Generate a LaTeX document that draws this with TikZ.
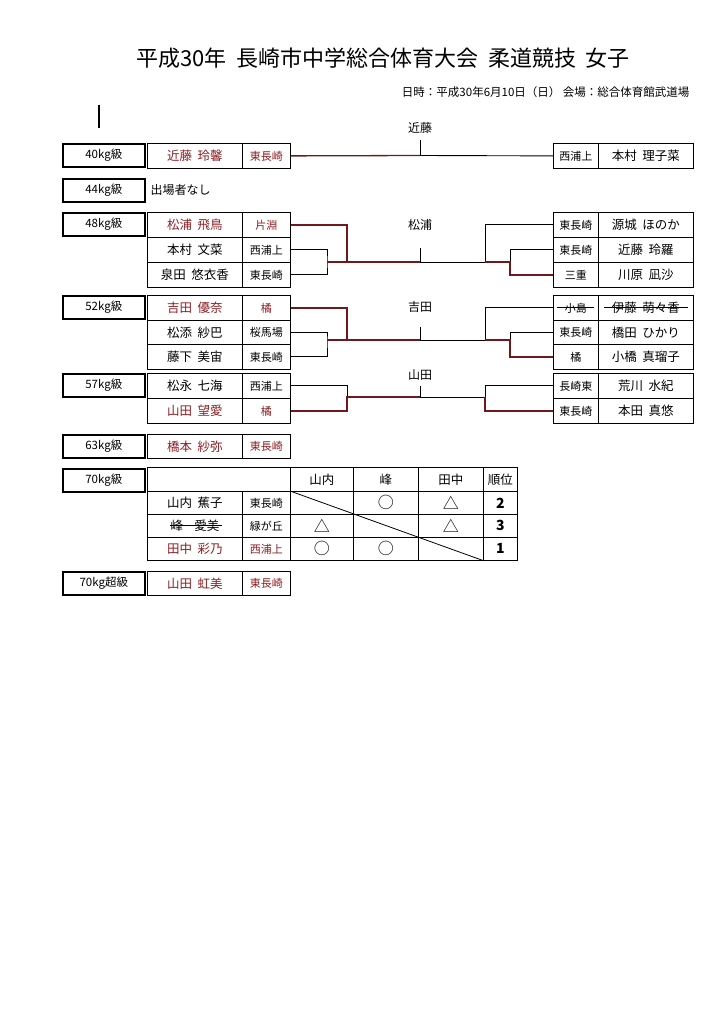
\documentclass[tikz,border=0pt]{standalone}
\usepackage{fontspec}
\setmainfont{Noto Sans CJK JP}
\begin{document}
\begin{tikzpicture}[x=1pt,y=-1pt,
  cell/.style={draw,line width=0.8pt,inner sep=0pt,font=\fontsize{12.5}{13}\selectfont},
  cls/.style={draw,line width=1.6pt,inner sep=0pt,minimum width=82pt,minimum height=23pt,anchor=north west,font=\fontsize{11.5}{12}\selectfont},
  br/.style={line width=0.9pt},
  win/.style={line width=1.3pt,color=wred!80!black},
  lbl/.style={font=\fontsize{12}{12}\selectfont}]
\definecolor{wred}{RGB}{140,30,35}
\useasboundingbox[fill=white] (0,0) rectangle (710,1024);
\newcommand\lent[6]{%
 \node[cell,text=#6,minimum width=95pt,minimum height=#3pt,anchor=north west] (#1n) at (147,#2) {#4};
 \node[cell,text=#6,minimum width=48pt,minimum height=#3pt,anchor=north west,font=\fontsize{11}{12}\selectfont] (#1s) at (242,#2) {#5};}
\newcommand\rent[6]{%
 \node[cell,text=#6,minimum width=45pt,minimum height=#3pt,anchor=north west,font=\fontsize{11}{12}\selectfont] (#1s) at (553,#2) {#5};
 \node[cell,text=#6,minimum width=95pt,minimum height=#3pt,anchor=north west] (#1n) at (598,#2) {#4};}
% title
\node[font=\fontsize{22}{24}\selectfont] (title) at (383,58) {平成30年\ \ 長崎市中学総合体育大会\ \ 柔道競技\ \ 女子};
\node[anchor=east,font=\fontsize{11.5}{12}\selectfont] (sub) at (693,92) {日時：平成30年6月10日（日）\ 会場：総合体育館武道場};
\coordinate (m1) at (99,105); \coordinate (m2) at (99,128);
\draw[line width=1.5pt] (m1) -- (m2);
% class labels
\node[cls] (c40) at (62,143) {40kg級};
\node[cls] (c44) at (62,178) {44kg級};
\node[cls] (c48) at (62,212) {48kg級};
\node[cls] (c52) at (62,295) {52kg級};
\node[cls] (c57) at (62,373) {57kg級};
\node[cls] (c63) at (62,434) {63kg級};
\node[cls] (c70) at (62,468) {70kg級};
\node[cls] (c70p) at (62,571) {70kg超級};
% 40kg
\lent{a}{143}{25}{近藤\ \ 玲馨}{東長崎}{wred}
\rent{b}{143}{25}{本村\ \ 理子菜}{西浦上}{black}
\coordinate (k40) at (420,155.5); \coordinate (k40t) at (420,140);
\draw[win] (as.east) -- (k40);
\draw[br] (k40) -- (bs.west);
\draw[br] (k40) -- (k40t);
\node[lbl] (w40) at (420,128) {近藤};
% 44kg
\node[lbl,anchor=west] (n44) at (147,190) {出場者なし};
% 48kg
\lent{d1}{212}{25}{松浦\ \ 飛鳥}{片淵}{wred}
\lent{d2}{237}{25}{本村\ \ 文菜}{西浦上}{black}
\lent{d3}{262}{25}{泉田\ \ 悠衣香}{東長崎}{black}
\rent{e1}{212}{25}{源城\ \ ほのか}{東長崎}{black}
\rent{e2}{237}{25}{近藤\ \ 玲羅}{東長崎}{black}
\rent{e3}{262}{25}{川原\ \ 凪沙}{三重}{black}
\coordinate (L48) at (347,262); \coordinate (l48) at (327,262);
\coordinate (R48) at (485,262); \coordinate (r48) at (510,262);
\coordinate (k48) at (420,262); \coordinate (k48t) at (420,248);
\draw[br] (d2s.east) -| (l48) |- (d3s.east);
\draw[win] (l48) -- (L48);
\draw[win] (d1s.east) -| (L48) -- (k48);
\draw[br] (k48) -- (R48) |- (e1s.west);
\draw[br] (e2s.west) -| (r48);
\draw[win] (R48) -- (r48) |- (e3s.west);
\draw[br] (k48) -- (k48t);
\node[lbl] (w48) at (420,225) {松浦};
% 52kg
\lent{f1}{295}{25}{吉田\ \ 優奈}{橘}{wred}
\lent{f2}{320}{24}{松添\ \ 紗巴}{桜馬場}{black}
\lent{f3}{344}{25}{藤下\ \ 美宙}{東長崎}{black}
\rent{g1}{295}{25}{伊藤\ \ 萌々香}{小島}{black}
\rent{g2}{320}{24}{橋田\ \ ひかり}{東長崎}{black}
\rent{g3}{344}{25}{小橋\ \ 真瑠子}{橘}{black}
\coordinate (s1) at (604,307.5); \coordinate (s2) at (688,307.5);
\draw[line width=0.8pt] (s1) -- (s2);
\coordinate (s5) at (557,307.5); \coordinate (s6) at (594,307.5);
\draw[line width=0.8pt] (s5) -- (s6);
\coordinate (L52) at (347,340); \coordinate (l52) at (327,340);
\coordinate (R52) at (485,340); \coordinate (r52) at (510,340);
\coordinate (k52) at (420,340); \coordinate (k52t) at (420,327);
\draw[br] (f2s.east) -| (l52) |- (f3s.east);
\draw[win] (l52) -- (L52);
\draw[win] (f1s.east) -| (L52) -- (k52);
\draw[br] (k52) -- (R52) |- (g1s.west);
\draw[br] (g2s.west) -| (r52);
\draw[win] (R52) -- (r52) |- (g3s.west);
\draw[br] (k52) -- (k52t);
\node[lbl] (w52) at (420,307) {吉田};
% 57kg
\lent{h1}{373}{25}{松永\ \ 七海}{西浦上}{black}
\lent{h2}{398}{25}{山田\ \ 望愛}{橘}{wred}
\rent{i1}{373}{25}{荒川\ \ 水紀}{長崎東}{black}
\rent{i2}{398}{25}{本田\ \ 真悠}{東長崎}{black}
\coordinate (L57) at (347,397); \coordinate (R57) at (485,397);
\coordinate (k57) at (420,397); \coordinate (k57t) at (420,386);
\draw[br] (h1s.east) -| (L57);
\draw[win] (h2s.east) -| (L57) -- (k57);
\draw[br] (k57) -- (R57) |- (i1s.west);
\draw[win] (R57) |- (i2s.west);
\draw[br] (k57) -- (k57t);
\node[lbl] (w57) at (420,375) {山田};
% 63kg
\lent{j}{434}{24}{橋本\ \ 紗弥}{東長崎}{wred}
% 70kg table
\node[cell,minimum width=143pt,minimum height=24pt,anchor=north west] (th0) at (147,467) {};
\node[cell,minimum width=63pt,minimum height=24pt,anchor=north west] (th1) at (290,467) {山内};
\node[cell,minimum width=65pt,minimum height=24pt,anchor=north west] (th2) at (353,467) {峰};
\node[cell,minimum width=65pt,minimum height=24pt,anchor=north west] (th3) at (418,467) {田中};
\node[cell,minimum width=34pt,minimum height=24pt,anchor=north west] (th4) at (483,467) {順位};
\lent{t1}{491}{23}{山内\ \ 蕉子}{東長崎}{black}
\lent{t2}{514}{23}{峰\ \ \ \ 愛美}{緑が丘}{black}
\lent{t3}{537}{23}{田中\ \ 彩乃}{西浦上}{wred}
\foreach \r/\y/\a/\b/\c/\k in {1/491//○/△/2, 2/514/△//△/3, 3/537/○/○//1}{
  \node[cell,minimum width=63pt,minimum height=23pt,anchor=north west,font=\fontsize{16}{16}\selectfont] (r\r a) at (290,\y) {\a};
  \node[cell,minimum width=65pt,minimum height=23pt,anchor=north west,font=\fontsize{16}{16}\selectfont] (r\r b) at (353,\y) {\b};
  \node[cell,minimum width=65pt,minimum height=23pt,anchor=north west,font=\fontsize{16}{16}\selectfont] (r\r c) at (418,\y) {\c};
  \node[cell,minimum width=34pt,minimum height=23pt,anchor=north west,font=\fontsize{14}{14}\selectfont\bfseries] (r\r d) at (483,\y) {\k};
}
\draw[line width=0.8pt] (r1a.north west) -- (r3c.south east);
\coordinate (s3) at (170,525.5); \coordinate (s4) at (222,525.5);
\draw[line width=0.8pt] (s3) -- (s4);
% 70kg+
\lent{u}{571}{24}{山田\ \ 虹美}{東長崎}{wred}
\end{tikzpicture}
\end{document}
